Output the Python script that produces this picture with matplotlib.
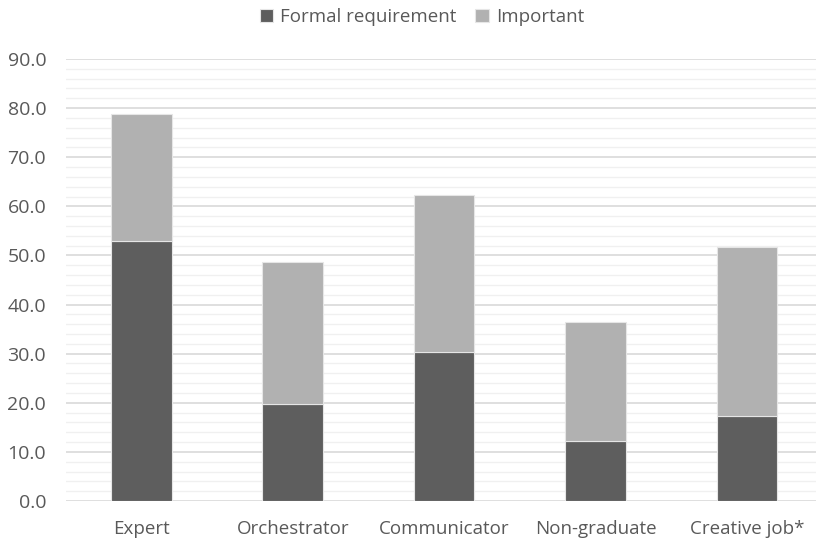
import matplotlib
matplotlib.use("Agg")
import matplotlib.pyplot as plt
from matplotlib.ticker import MultipleLocator, FormatStrFormatter

categories = ["Expert", "Orchestrator", "Communicator", "Non-graduate", "Creative job*"]
formal_requirement = [52.9, 19.7, 30.4, 12.2, 17.3]
important_total = [78.9, 48.6, 62.4, 36.4, 51.7]
important = [t - f for t, f in zip(important_total, formal_requirement)]

plt.rcParams["font.family"] = ["Open Sans", "DejaVu Sans"]
text_color = "#595959"

W, H = 816, 541
fig = plt.figure(figsize=(W / 100, H / 100), dpi=100)
left, right, top, bottom = 65.6, 816, 59, 501
ax = fig.add_axes([left / W, (H - bottom) / H, (right - left) / W, (bottom - top) / H])

x = range(len(categories))
width = 0.4
ax.bar(x, formal_requirement, width, color="#5e5e5e", edgecolor="#e6e6e6",
       linewidth=0.8, label="Formal requirement", zorder=3)
ax.bar(x, important, width, bottom=formal_requirement, color="#b1b1b1",
       edgecolor="#e6e6e6", linewidth=0.8, label="Important", zorder=3)

ax.set_xlim(-0.5, 4.455)
ax.set_ylim(0, 90)
ax.yaxis.set_major_locator(MultipleLocator(10))
ax.yaxis.set_minor_locator(MultipleLocator(2))
ax.yaxis.set_major_formatter(FormatStrFormatter("%.1f"))
ax.set_xticks(list(x))
ax.set_xticklabels(categories)

ax.grid(axis="y", which="major", color="#d9d9d9", linewidth=1.2, zorder=0)
ax.grid(axis="y", which="minor", color="#f0f0f0", linewidth=1.0, zorder=0)
ax.set_axisbelow(True)

for s in ax.spines.values():
    s.set_visible(False)
ax.tick_params(axis="both", which="both", length=0, colors=text_color)
ax.tick_params(axis="x", pad=14, labelsize=13.5)
ax.tick_params(axis="y", pad=14, labelsize=14)

leg = fig.legend(loc="center", bbox_to_anchor=(422 / W, 1 - 17 / H), ncol=2,
                 frameon=False, fontsize=13.5, handlelength=0.7, handleheight=0.7,
                 handletextpad=0.4, columnspacing=1.0)
for t in leg.get_texts():
    t.set_color(text_color)

fig.savefig("out.png", dpi=100)
